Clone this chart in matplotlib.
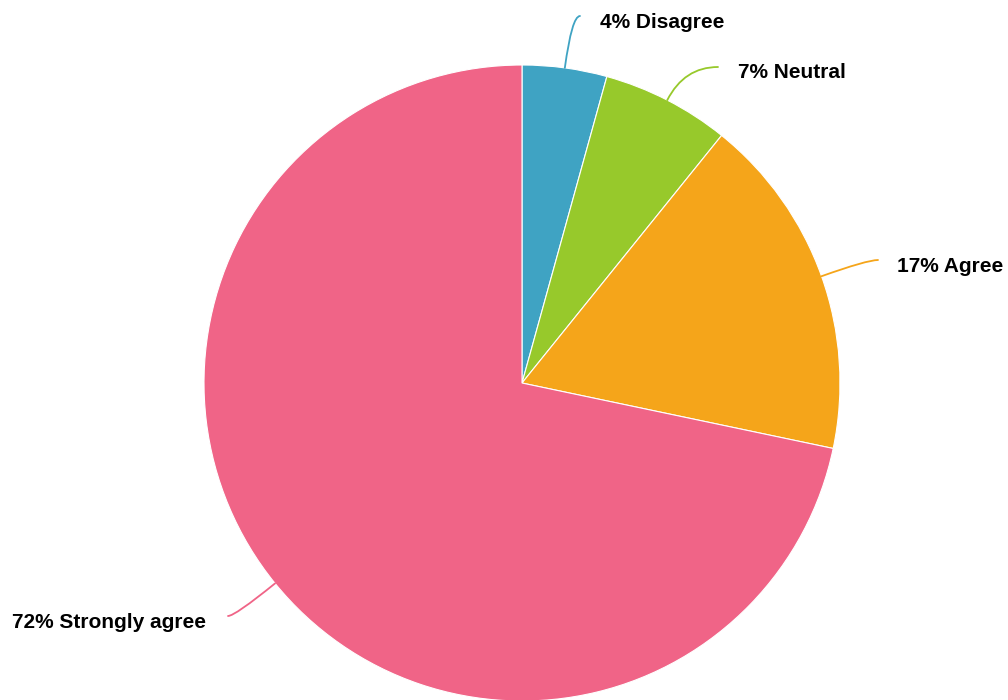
import numpy as np
import matplotlib
matplotlib.use('Agg')
import matplotlib.pyplot as plt

# データ
labels = ['Disagree', 'Neutral', 'Agree', 'Strongly agree']
values = [4.3, 6.5, 17.5, 71.7]
pct_text = ['4%', '7%', '17%', '72%']
colors = ['#3fa3c3', '#97c92b', '#f5a51a', '#f06487']

plt.rcParams['font.family'] = ['Liberation Sans', 'DejaVu Sans']

W, H = 1008, 700
fig = plt.figure(figsize=(W / 100, H / 100), dpi=100)
ax = fig.add_axes([0, 0, 1, 1])

cx, cy, r = 522, H - 383, 318
wedges, _ = ax.pie(values, colors=colors, startangle=90, counterclock=False,
                   center=(cx, cy), radius=r, frame=True,
                   wedgeprops=dict(edgecolor='white', linewidth=0.8))
ax.set_xlim(0, W)
ax.set_ylim(0, H)
ax.set_aspect('equal')
ax.axis('off')

# ラベル位置 (線の終点, テキスト位置, 配置)
ends = [(580, 16), (718, 67), (878, 260), (228, 616)]
text_pos = [(600, 22, 'left'), (738, 73, 'left'), (897, 266, 'left'), (206, 622, 'right')]

for w, lab, p, col, e, t in zip(wedges, labels, pct_text, colors, ends, text_pos):
    ang = (w.theta1 + w.theta2) / 2
    ex = cx + r * np.cos(np.deg2rad(ang))
    ey = cy + r * np.sin(np.deg2rad(ang))
    ax.annotate('', xy=(ex, ey), xytext=(e[0], H - e[1]),
                arrowprops=dict(arrowstyle='-', color=col, lw=1.3,
                                shrinkA=0, shrinkB=0,
                                connectionstyle=f'angle3,angleA=0,angleB={ang}'))
    ax.text(t[0], H - t[1], f'{p} {lab}', ha=t[2], va='center',
            fontsize=15, fontweight='bold', color='black')

fig.savefig('out.png', dpi=100)
